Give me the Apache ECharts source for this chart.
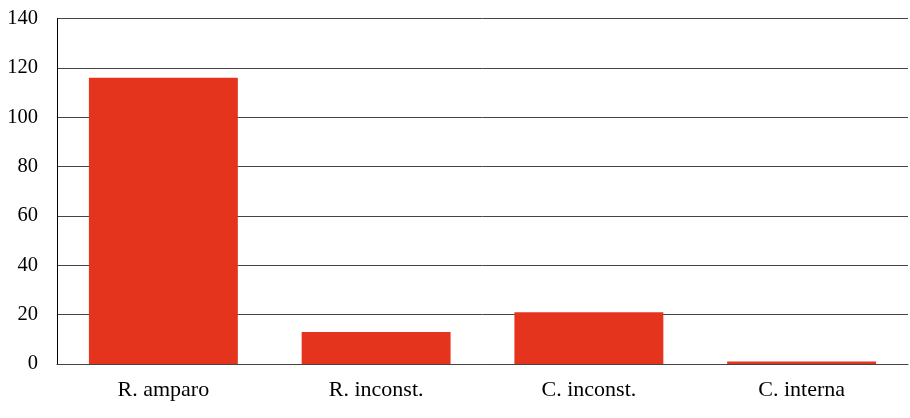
<!DOCTYPE html>
<html>
<head>
<meta charset="utf-8">
<script src="https://cdn.jsdelivr.net/npm/echarts@6/dist/echarts.min.js"></script>
<style>html,body{margin:0;padding:0;background:#fff}#c{width:910px;height:418px}</style>
</head>
<body>
<div id="c"></div>
<script>
const categories = ['R. amparo', 'R. inconst.', 'C. inconst.', 'C. interna'];
const values = [116, 13, 21, 1];
const yTicks = [0, 20, 40, 60, 80, 100, 120, 140];

const chart = echarts.init(document.getElementById('c'), null, {renderer: 'canvas'});
chart.setOption({
  animation: false,
  grid: {left: 57, right: 2, top: 18.5, bottom: 54, containLabel: false},
  xAxis: {
    type: 'category',
    data: categories,
    axisLine: {show: true, lineStyle: {color: '#444', width: 1}},
    axisTick: {show: false},
    axisLabel: {color: '#000', fontFamily: 'Liberation Serif', fontSize: 22, margin: 15}
  },
  yAxis: {
    type: 'value',
    min: yTicks[0],
    max: yTicks[yTicks.length - 1],
    interval: 20,
    axisLine: {show: true, lineStyle: {color: '#000', width: 1}},
    axisTick: {show: false},
    splitLine: {show: true, lineStyle: {color: '#444', width: 1}},
    axisLabel: {color: '#000', fontFamily: 'Liberation Serif', fontSize: 20.5, margin: 19}
  },
  series: [{
    type: 'bar',
    data: values,
    barWidth: '70%',
    itemStyle: {color: '#e5341e'}
  }]
});
</script>
</body>
</html>
